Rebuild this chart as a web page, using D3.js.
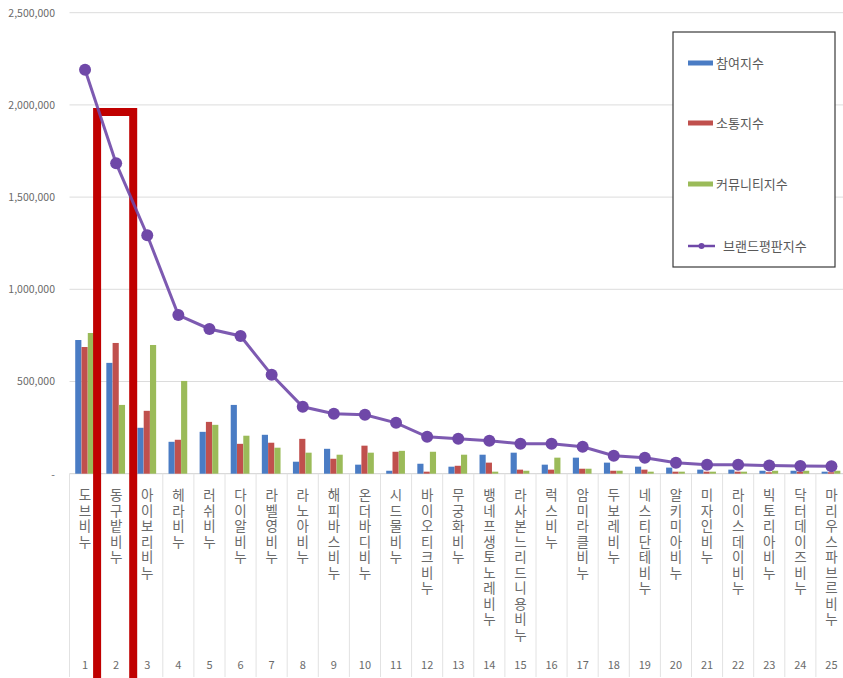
<!DOCTYPE html>
<html><head><meta charset="utf-8">
<script src="https://cdn.jsdelivr.net/npm/d3@7"></script>
<style>html,body{margin:0;padding:0;background:#fff;overflow:hidden}</style>
</head><body>
<svg id="c" width="843" height="678"></svg>
<script>
const ranks = d3.range(1, 26).map(String);
const brands = ["도브비누","동구밭비누","아이보리비누","헤라비누","러쉬비누","다이알비누","라벨영비누","라노아비누","해피바스비누","온더바디비누","시드물비누","바이오티크비누","무궁화비누","뱅네프생토노레비누","라사본느리드니용비누","럭스비누","암미라클비누","두보레비누","네스티단테비누","알키미아비누","미자인비누","라이스데이비누","빅토리아비누","닥터데이즈비누","마리우스파브르비누"];
const seriesNames = ["참여지수","소통지수","커뮤니티지수"];
const lineName = "브랜드평판지수";
const participation = [725000,601000,249000,173000,227000,373000,211000,65000,135000,49000,16000,54000,38000,103000,114000,49000,87000,60000,38000,33000,22000,22000,16000,16000,11000];
const communication = [687000,709000,341000,184000,281000,162000,168000,189000,81000,152000,119000,11000,43000,60000,22000,22000,27000,16000,22000,11000,11000,11000,8000,11000,8000];
const community = [763000,373000,698000,503000,265000,206000,141000,114000,103000,114000,124000,119000,103000,11000,16000,87000,27000,16000,11000,11000,11000,11000,16000,16000,16000];
const brandIndex = [2191000,1683000,1293000,860000,785000,747000,536000,363000,325000,320000,276000,200000,189000,179000,162000,162000,146000,97000,87000,60000,49000,49000,44000,42000,40000];
const yTicks = [0,500000,1000000,1500000,2000000,2500000];
const highlightRank = "2";

const barColors = ["#4a7cc4","#c0504d","#9bbb59"];
const lineColor = "#6f48a8";
const svg = d3.select("#c");
const font = "'Noto Sans CJK KR','Noto Sans',sans-serif";
const labelFont = "'Liberation Sans','Noto Sans CJK KR',sans-serif";

const x0 = d3.scaleBand().domain(ranks).range([69.5, 847]).padding(0);
const x1 = d3.scaleBand().domain(seriesNames).range([x0.bandwidth()*0.18, x0.bandwidth()*0.79]).padding(0.02);
const y = d3.scaleLinear().domain([0, 2500000]).range([473.7, 12.7]);

// gridlines
svg.append("g").selectAll("line").data(yTicks.slice(1)).join("line")
  .attr("x1", 69.5).attr("x2", 843).attr("y1", d=>y(d)).attr("y2", d=>y(d))
  .attr("stroke", "#dcdcdc").attr("stroke-width", 1);

// y axis labels
const yAxis = d3.axisLeft(y).tickValues(yTicks).tickSize(0).tickPadding(0)
  .tickFormat(d => d === 0 ? "-" : d3.format(",")(d));
const ya = svg.append("g").attr("transform", "translate(55,0)").call(yAxis);
ya.select(".domain").remove();
ya.selectAll("text").attr("font-family", font).attr("font-size", 10.5).attr("fill", "#6a6a6a");

// baseline
svg.append("line").attr("x1", 69.5).attr("x2", 843).attr("y1", y(0)).attr("y2", y(0)).attr("stroke", "#d0d0d0");
// category dividers
svg.append("g").selectAll("line").data(ranks).join("line")
  .attr("x1", d=>x0(d)).attr("x2", d=>x0(d)).attr("y1", y(0)).attr("y2", 677)
  .attr("stroke", "#e2e2e2");

// bars
const seriesVals = [participation, communication, community];
const g = svg.append("g");
ranks.forEach((r, i) => {
  seriesNames.forEach((s, j) => {
    const v = seriesVals[j][i];
    g.append("rect").attr("x", x0(r) + x1(s)).attr("width", x1.bandwidth())
      .attr("y", y(v)).attr("height", y(0) - y(v)).attr("fill", barColors[j]);
  });
});

// labels: one character per line, stacked
const lab = svg.append("g");
ranks.forEach((r, i) => {
  const cx = x0(r) + x0.bandwidth()/2;
  Array.from(brands[i]).forEach((ch, k) => {
    lab.append("text").attr("x", cx).attr("y", 500 + k*15.5).attr("text-anchor", "middle")
      .attr("font-family", labelFont).attr("font-size", 13.5).attr("fill", "#6a6a6a").text(ch);
  });
  lab.append("text").attr("x", cx).attr("y", 669).attr("text-anchor", "middle")
    .attr("font-family", font).attr("font-size", 11).attr("fill", "#6a6a6a").text(r);
});

// highlight box
svg.append("rect").attr("x", x0(highlightRank) - 3.5).attr("y", 112)
  .attr("width", x0.bandwidth() + 5).attr("height", 600)
  .attr("fill", "none").attr("stroke", "#c00000").attr("stroke-width", 8);

// line
const cxOf = i => x0(ranks[i]) + x0.bandwidth()/2;
const line = d3.line().x((d,i)=>cxOf(i)).y(d=>y(d));
svg.append("path").datum(brandIndex).attr("d", line).attr("fill", "none")
  .attr("stroke", lineColor).attr("stroke-width", 3).attr("stroke-opacity", 0.9);
svg.append("g").selectAll("circle").data(brandIndex).join("circle")
  .attr("cx", (d,i)=>cxOf(i)).attr("cy", d=>y(d)).attr("r", 6).attr("fill", lineColor);

// legend
const lg = svg.append("g");
lg.append("rect").attr("x", 673).attr("y", 32).attr("width", 162).attr("height", 235)
  .attr("fill", "#fff").attr("stroke", "#3a3a3a").attr("stroke-width", 1.2);
const ly = [63, 123, 184];
seriesNames.forEach((s, j) => {
  lg.append("rect").attr("x", 688).attr("y", ly[j]-2.5).attr("width", 25).attr("height", 5).attr("fill", barColors[j]);
  lg.append("text").attr("x", 716).attr("y", ly[j]+4.5).attr("font-family", font).attr("font-size", 13)
    .attr("fill", "#595959").text(s);
});
lg.append("line").attr("x1", 688).attr("x2", 715).attr("y1", 246).attr("y2", 246).attr("stroke", lineColor).attr("stroke-width", 2.5);
lg.append("circle").attr("cx", 701.5).attr("cy", 246).attr("r", 3).attr("fill", lineColor);
lg.append("text").attr("x", 723).attr("y", 250.5).attr("font-family", font).attr("font-size", 13)
  .attr("fill", "#595959").text(lineName);
</script>
</body></html>
